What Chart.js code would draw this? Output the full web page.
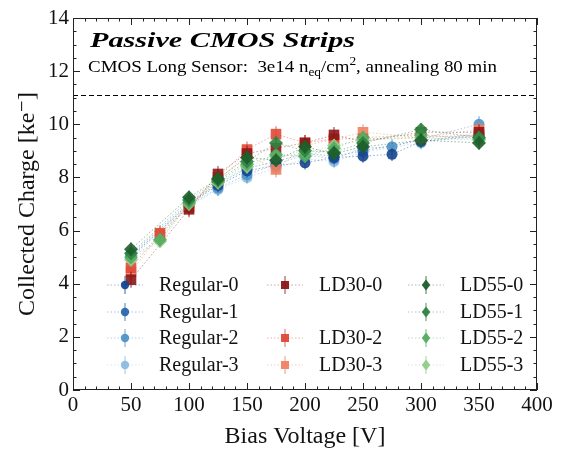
<!DOCTYPE html>
<html>
<head>
<meta charset="utf-8">
<script src="https://cdn.jsdelivr.net/npm/chart.js@4.4.1/dist/chart.umd.min.js"></script>
<style>
  html, body { margin: 0; padding: 0; background: #fff; }
  #wrap { width: 579px; height: 452px; }
</style>
</head>
<body>
<div id="wrap"><canvas id="myChart" width="579" height="452"></canvas></div>
<script>
"use strict";

// bias voltage sets (V)
var voltsA = [50, 100, 125, 150, 175, 200, 225, 250, 275, 300, 350];
var voltsB = [50, 100, 125, 150, 175, 200, 225, 250, 300, 350];
var voltsC = [50, 75, 100, 125, 150, 175, 200, 225, 250, 300, 350];

// collected charge (ke-)
var regular0 = [5.0, 7.0, 7.7, 8.25, 8.45, 8.55, 8.75, 8.8, 8.87, 9.35, 9.55];
var regular1 = [5.1, 7.05, 7.75, 8.35, 8.6, 8.9, 8.8, 9.0, 9.4, 9.6];
var regular2 = [5.05, 6.95, 7.6, 8.1, 8.5, 8.85, 8.7, 9.1, 9.15, 9.45, 10.0];
var regular3 = [4.95, 6.9, 7.55, 8.0, 8.35, 8.7, 8.6, 8.95, 9.3, 9.7];
var ld30_0 = [4.15, 6.8, 8.13, 8.9, 9.1, 9.3, 9.6, 9.35, 9.7, 9.7];
var ld30_2 = [4.6, 5.9, 6.9, 8.0, 9.05, 9.63, 9.3, 9.45, 9.45, 9.5, 9.6];
var ld30_3 = [4.45, 5.85, 6.85, 7.9, 8.85, 8.3, 9.2, 9.43, 9.7, 9.5, 9.8];
var ld55_0 = [5.3, 7.25, 7.95, 8.75, 8.65, 9.15, 8.9, 9.15, 9.4, 9.3];
var ld55_1 = [5.15, 7.15, 7.9, 8.6, 9.3, 9.0, 8.95, 9.3, 9.8, 9.5];
var ld55_2 = [5.0, 5.65, 7.05, 7.85, 8.5, 8.85, 8.8, 9.1, 9.5, 9.6, 9.45];
var ld55_3 = [4.9, 5.6, 7.0, 7.8, 8.4, 8.8, 8.9, 9.2, 9.4, 9.5, 9.4];

var seriesLabels = ['Regular-0', 'Regular-1', 'Regular-2', 'Regular-3',
  'LD30-0', 'LD30-2', 'LD30-3', 'LD55-0', 'LD55-1', 'LD55-2', 'LD55-3'];
var seriesVolts = [voltsA, voltsB, voltsA, voltsB, voltsB, voltsC, voltsC, voltsB, voltsB, voltsC, voltsC];
var seriesValues = [regular0, regular1, regular2, regular3, ld30_0, ld30_2, ld30_3, ld55_0, ld55_1, ld55_2, ld55_3];
var seriesErrors = [0.25, 0.25, 0.3, 0.25, 0.3, 0.3, 0.3, 0.25, 0.25, 0.25, 0.25];
var dashLevel = 11.1;

var xTicks = [0, 50, 100, 150, 200, 250, 300, 350, 400];
var yTicks = [0, 2, 4, 6, 8, 10, 12, 14];

// styles
var seriesColors = ['22,70,143', '42,104,174', '81,147,200', '141,189,224',
  '140,22,22', '223,74,55', '239,130,98',
  '29,94,43', '47,132,65', '86,171,96', '143,207,135'];
var seriesShapes = ['circle', 'circle', 'circle', 'circle', 'rect', 'rect', 'rect',
  'rectRot', 'rectRot', 'rectRot', 'rectRot'];
var seriesRadius = { circle: 5.5, rect: 7.5, rectRot: 7 };
// stacking: the "-0" sensor of each group sits on top of its group
var seriesLayer = [8, 9, 10, 11, 4, 5, 6, 0, 1, 2, 3];
// legend slot [column, row]; LD30-1 slot is left empty
var legendSlots = [[0, 0], [0, 1], [0, 2], [0, 3], [1, 0], [1, 2], [1, 3], [2, 0], [2, 1], [2, 2], [2, 3]];

var serif = '"Liberation Serif", "DejaVu Serif", serif';

function rgba(c, a) { return 'rgba(' + c + ',' + a + ')'; }

var datasets = seriesLabels.map(function(label, i) {
  return {
    label: label,
    data: seriesVolts[i].map(function(v, k) { return { x: v, y: seriesValues[i][k] }; }),
    borderColor: rgba(seriesColors[i], 0.45),
    borderWidth: 1,
    borderDash: [1.5, 2],
    backgroundColor: rgba(seriesColors[i], 0.9),
    pointBackgroundColor: rgba(seriesColors[i], 0.9),
    pointBorderColor: rgba(seriesColors[i], 0.9),
    pointBorderWidth: 0,
    pointStyle: seriesShapes[i],
    pointRadius: seriesRadius[seriesShapes[i]],
    showLine: true,
    fill: false,
    order: seriesLayer[i]
  };
});

function drawMarker(ctx, shape, x, y, r) {
  ctx.beginPath();
  if (shape === 'circle') {
    ctx.arc(x, y, r, 0, Math.PI * 2);
  } else if (shape === 'rect') {
    ctx.rect(x - r, y - r, 2 * r, 2 * r);
  } else {
    ctx.moveTo(x, y - r * 1.1);
    ctx.lineTo(x + r * 0.85, y);
    ctx.lineTo(x, y + r * 1.1);
    ctx.lineTo(x - r * 0.85, y);
    ctx.closePath();
  }
  ctx.fill();
}

// error bars under each dataset's markers
var errorBars = {
  id: 'errorBars',
  beforeDatasetDraw: function(chart, args) {
    var i = args.index;
    var ctx = chart.ctx;
    var ys = chart.scales.y;
    ctx.save();
    ctx.strokeStyle = rgba(seriesColors[i], 0.6);
    ctx.lineWidth = 1.5;
    args.meta.data.forEach(function(pt, k) {
      var v = seriesValues[i][k];
      ctx.beginPath();
      ctx.moveTo(pt.x, ys.getPixelForValue(v - seriesErrors[i]));
      ctx.lineTo(pt.x, ys.getPixelForValue(v + seriesErrors[i]));
      ctx.stroke();
    });
    ctx.restore();
  }
};

function fitText(ctx, parts, x, y, width) {
  // parts: [text, font, dy]
  var total = 0;
  parts.forEach(function(p) { ctx.font = p[1]; total += ctx.measureText(p[0]).width; });
  ctx.save();
  ctx.translate(x, y);
  ctx.scale(width / total, 1);
  var cx = 0;
  parts.forEach(function(p) {
    ctx.font = p[1];
    ctx.fillText(p[0], cx, p[2]);
    cx += ctx.measureText(p[0]).width;
  });
  ctx.restore();
}

var frameAndText = {
  id: 'frameAndText',
  beforeDatasetsDraw: function(chart) {
    var ctx = chart.ctx;
    var a = chart.chartArea;
    var ys = chart.scales.y;
    ctx.save();
    ctx.strokeStyle = '#000';
    ctx.lineWidth = 1;
    ctx.setLineDash([5, 3]);
    var yd = Math.round(ys.getPixelForValue(dashLevel)) + 0.5;
    ctx.beginPath();
    ctx.moveTo(a.left, yd);
    ctx.lineTo(a.right, yd);
    ctx.stroke();
    ctx.restore();
  },
  afterDraw: function(chart) {
    var ctx = chart.ctx;
    var a = chart.chartArea;
    var xs = chart.scales.x, ys = chart.scales.y;
    ctx.save();
    ctx.strokeStyle = '#222';
    ctx.lineWidth = 1;
    ctx.strokeRect(a.left + 0.5, a.top + 0.5, a.right - a.left - 1, a.bottom - a.top - 1);

    var v, p, len;
    for (v = 0; v <= 400; v += 10) {
      p = Math.round(xs.getPixelForValue(v)) + 0.5;
      len = v % 50 === 0 ? 7 : 3.5;
      ctx.beginPath();
      ctx.moveTo(p, a.bottom); ctx.lineTo(p, a.bottom - len);
      ctx.moveTo(p, a.top); ctx.lineTo(p, a.top + len);
      ctx.stroke();
    }
    for (v = 0; v <= 14; v += 0.5) {
      p = Math.round(ys.getPixelForValue(v)) + 0.5;
      len = v % 2 === 0 ? 7 : 3.5;
      ctx.beginPath();
      ctx.moveTo(a.left, p); ctx.lineTo(a.left + len, p);
      ctx.moveTo(a.right, p); ctx.lineTo(a.right - len, p);
      ctx.stroke();
    }

    // title block
    ctx.fillStyle = '#000';
    ctx.textBaseline = 'alphabetic';
    fitText(ctx, [['Passive CMOS Strips', 'italic bold 21px ' + serif, 0]], a.left + 17, 47, 265);
    var f = '17px ' + serif, fs = '12px ' + serif;
    fitText(ctx, [
      ['CMOS Long Sensor:  3e14 n', f, 0],
      ['eq', fs, 4],
      ['/cm', f, 0],
      ['2', fs, -7],
      [', annealing 80 min', f, 0]
    ], a.left + 15, 72, 409);

    // legend
    var colMarker = [a.left + 52, a.left + 212, a.left + 353];
    var rowY = [285, 312, 338, 365];
    ctx.font = '20px ' + serif;
    ctx.textBaseline = 'middle';
    legendSlots.forEach(function(s, i) {
      var mx = colMarker[s[0]], my = rowY[s[1]];
      ctx.strokeStyle = rgba(seriesColors[i], 0.4);
      ctx.lineWidth = 1;
      ctx.setLineDash([1.5, 2]);
      ctx.beginPath();
      ctx.moveTo(mx - 18, my); ctx.lineTo(mx + 18, my);
      ctx.stroke();
      ctx.setLineDash([]);
      ctx.strokeStyle = rgba(seriesColors[i], 0.55);
      ctx.lineWidth = 1.5;
      ctx.beginPath();
      ctx.moveTo(mx, my - 9); ctx.lineTo(mx, my + 9);
      ctx.stroke();
      ctx.fillStyle = rgba(seriesColors[i], 0.95);
      var shape = seriesShapes[i];
      drawMarker(ctx, shape, mx, my, shape === 'circle' ? 4.2 : (shape === 'rect' ? 4 : 5));
      ctx.fillStyle = '#111';
      ctx.fillText(seriesLabels[i], mx + 34, my + 1);
    });
    ctx.restore();
  }
};

var ctx = document.getElementById('myChart').getContext('2d');
var myChart = new Chart(ctx, {
  type: 'scatter',
  data: { datasets: datasets },
  options: {
    responsive: false,
    animation: false,
    layout: { padding: { top: 18, right: 42, left: 0, bottom: 0 } },
    plugins: {
      legend: { display: false },
      tooltip: { enabled: false }
    },
    scales: {
      x: {
        type: 'linear',
        min: 0, max: 400,
        afterFit: function(s) { s.height = 62; },
        afterBuildTicks: function(s) { s.ticks = xTicks.map(function(v) { return { value: v }; }); },
        grid: { display: false, drawTicks: false },
        border: { display: false },
        ticks: { color: '#111', padding: 3, maxRotation: 0, font: { family: serif, size: 21 } },
        title: { display: true, text: 'Bias Voltage [V]', color: '#111', padding: { top: 0, bottom: 1 }, font: { family: serif, size: 24 } }
      },
      y: {
        type: 'linear',
        min: 0, max: 14,
        afterFit: function(s) { s.width = 73; },
        afterBuildTicks: function(s) { s.ticks = yTicks.map(function(v) { return { value: v }; }); },
        grid: { display: false, drawTicks: false },
        border: { display: false },
        ticks: { color: '#111', padding: 4, font: { family: serif, size: 21 } },
        title: { display: true, text: 'Collected Charge [ke\u207B]', color: '#111', padding: { top: 13, bottom: 0 }, font: { family: serif, size: 24 } }
      }
    }
  },
  plugins: [errorBars, frameAndText]
});
</script>
</body>
</html>
